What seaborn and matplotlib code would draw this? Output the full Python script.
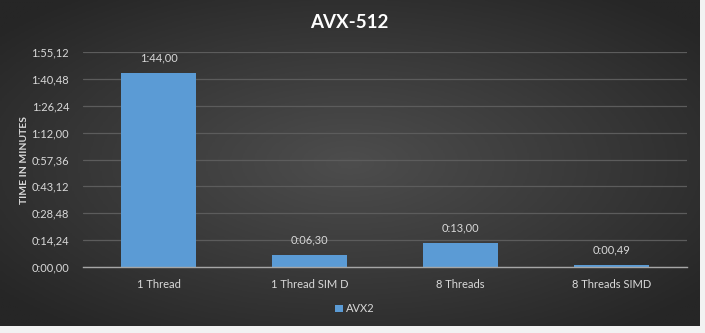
import numpy as np
import pandas as pd
import matplotlib
matplotlib.use("Agg")
import matplotlib.pyplot as plt
import seaborn as sns
from matplotlib.ticker import FuncFormatter, MultipleLocator

# data: time per run, in seconds (shown as h:mm,ss like the Excel chart)
categories = ["1 Thread", "1 Thread SIM D", "8 Threads", "8 Threads SIMD"]
avx2_seconds = [6240, 390, 780, 49]
series_name = "AVX2"

df = pd.DataFrame({"case": categories, "minutes": [s / 60 for s in avx2_seconds],
                   "series": series_name})

def fmt_time(v, pos=None):
    total = int(round(v * 60))
    h, rem = divmod(total, 3600)
    m, s = divmod(rem, 60)
    return f"{h}:{m:02d},{s:02d}"

sns.set_theme(style="dark")
plt.rcParams['font.family'] = ['Lato', 'DejaVu Sans']

txt = "#d9d9d9"
bar_col = "#5b9bd5"

fig = plt.figure(figsize=(7.05, 3.33), dpi=100)
fig.patch.set_facecolor("#f2f2f2")

# radial dark background of the chart area
bg = fig.add_axes([0, 7 / 333, 700 / 705, 326 / 333])
yy, xx = np.mgrid[-1:1:200j, -1:1:400j]
r = np.sqrt(xx ** 2 + yy ** 2)
bg.imshow(r, cmap=matplotlib.colors.LinearSegmentedColormap.from_list(
    "g", ["#4d4d4d", "#3a3a3a", "#262626"]), aspect="auto", extent=[0, 1, 0, 1],
    vmin=0, vmax=1.3)
bg.set_axis_off()

ax = fig.add_axes([83 / 705, 66 / 333, 604 / 705, 215 / 333])
ax.patch.set_alpha(0)
sns.barplot(data=df, x="case", y="minutes", hue="series", palette=[bar_col],
            width=0.5, ax=ax, saturation=1, edgecolor="none", linewidth=0)

ax.set_ylim(0, 115.2)
ax.yaxis.set_major_locator(MultipleLocator(14.4))
ax.yaxis.set_major_formatter(FuncFormatter(fmt_time))
ax.grid(axis="y", color="#5c5c5c", linewidth=0.9)
ax.grid(axis="x", visible=False)
ax.set_axisbelow(True)
for sp in ["top", "right", "left"]:
    ax.spines[sp].set_visible(False)
ax.spines["bottom"].set_color("#a6a6a6")
ax.spines["bottom"].set_linewidth(1)
ax.tick_params(axis="both", colors=txt, labelsize=8, length=0)
ax.tick_params(axis="x", pad=9)
ax.tick_params(axis="y", pad=10)
ax.set_xlabel("")
ax.set_ylabel("TIME IN MINUTES", color=txt, fontsize=7.5, fontweight="bold", labelpad=2)

for c in ax.containers:
    ax.bar_label(c, labels=[fmt_time(v) for v in c.datavalues], color=txt,
                 fontsize=8, padding=7)

fig.text(349 / 705, 1 - 23 / 333, "AVX-512", color="white", fontsize=13.5,
         fontweight="bold", ha="center", va="center")

leg = ax.legend(loc="center", bbox_to_anchor=(0.45, -0.195), frameon=False,
                fontsize=8, handlelength=0.7, handleheight=0.7, handletextpad=0.3)
for t in leg.get_texts():
    t.set_color(txt)

fig.savefig("out.png", dpi=100, facecolor=fig.get_facecolor())
